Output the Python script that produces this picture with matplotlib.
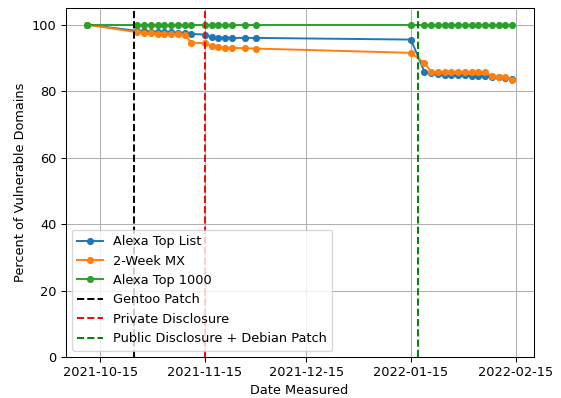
import pandas as pd
import matplotlib
matplotlib.use("Agg")
import matplotlib.pyplot as plt
import matplotlib.dates as mdates

# Measurement dates
dates = pd.to_datetime(
    ["2021-10-11"]
    + ["2021-10-26", "2021-10-28", "2021-10-30", "2021-11-01", "2021-11-03",
       "2021-11-05", "2021-11-07", "2021-11-09", "2021-11-11"]
    + ["2021-11-15", "2021-11-17", "2021-11-19", "2021-11-21", "2021-11-23",
       "2021-11-27", "2021-11-30"]
    + ["2022-01-15"]
    + ["2022-01-19", "2022-01-21", "2022-01-23", "2022-01-25", "2022-01-27",
       "2022-01-29", "2022-01-31", "2022-02-02", "2022-02-04", "2022-02-06",
       "2022-02-08", "2022-02-10", "2022-02-12", "2022-02-14"]
)

# Percent of domains still vulnerable
alexa_top_list = [100,
                  98.1, 98.0, 97.9, 97.8, 97.8, 97.7, 97.6, 97.5, 97.2,
                  97.0, 96.2, 96.1, 96.1, 96.0, 96.0, 96.0,
                  95.5,
                  85.8, 85.3, 85.0, 84.9, 84.8, 84.7, 84.7, 84.6, 84.6, 84.5,
                  84.3, 84.1, 84.0, 83.5]
two_week_mx = [100,
               97.7, 97.5, 97.4, 97.3, 97.3, 97.2, 97.1, 96.9, 94.6,
               94.4, 93.7, 93.3, 93.0, 93.0, 92.9, 92.8,
               91.5,
               88.5, 85.8, 85.8, 85.8, 85.8, 85.8, 85.8, 85.8, 85.8, 85.8,
               84.4, 84.1, 84.1, 83.4]
alexa_top_1000 = [100] * len(dates)

# Events
gentoo_patch = pd.Timestamp("2021-10-25")
private_disclosure = pd.Timestamp("2021-11-15")
public_disclosure = pd.Timestamp("2022-01-17")

tick_dates = pd.to_datetime(["2021-10-15", "2021-11-15", "2021-12-15",
                             "2022-01-15", "2022-02-15"])

fig = plt.figure(figsize=(561 / 93, 398 / 93), dpi=93)
ax = fig.add_axes([65.5 / 561, 41 / 398, 468 / 561, 349 / 398])

ax.plot(dates, alexa_top_list, marker="o", markersize=4.5, label="Alexa Top List")
ax.plot(dates, two_week_mx, marker="o", markersize=4.5, label="2-Week MX")
ax.plot(dates, alexa_top_1000, marker="o", markersize=4.5, label="Alexa Top 1000")
ax.axvline(gentoo_patch, color="k", linestyle="--", label="Gentoo Patch")
ax.axvline(private_disclosure, color="r", linestyle="--", label="Private Disclosure")
ax.axvline(public_disclosure, color="g", linestyle="--",
           label="Public Disclosure + Debian Patch")

ax.set_ylim(0, 105)
ax.set_xticks(tick_dates)
ax.xaxis.set_major_formatter(mdates.DateFormatter("%Y-%m-%d"))
ax.grid(True)
ax.set_xlabel("Date Measured")
ax.set_ylabel("Percent of Vulnerable Domains")
ax.legend(loc="lower left")

fig.savefig("out.png", dpi=93)
